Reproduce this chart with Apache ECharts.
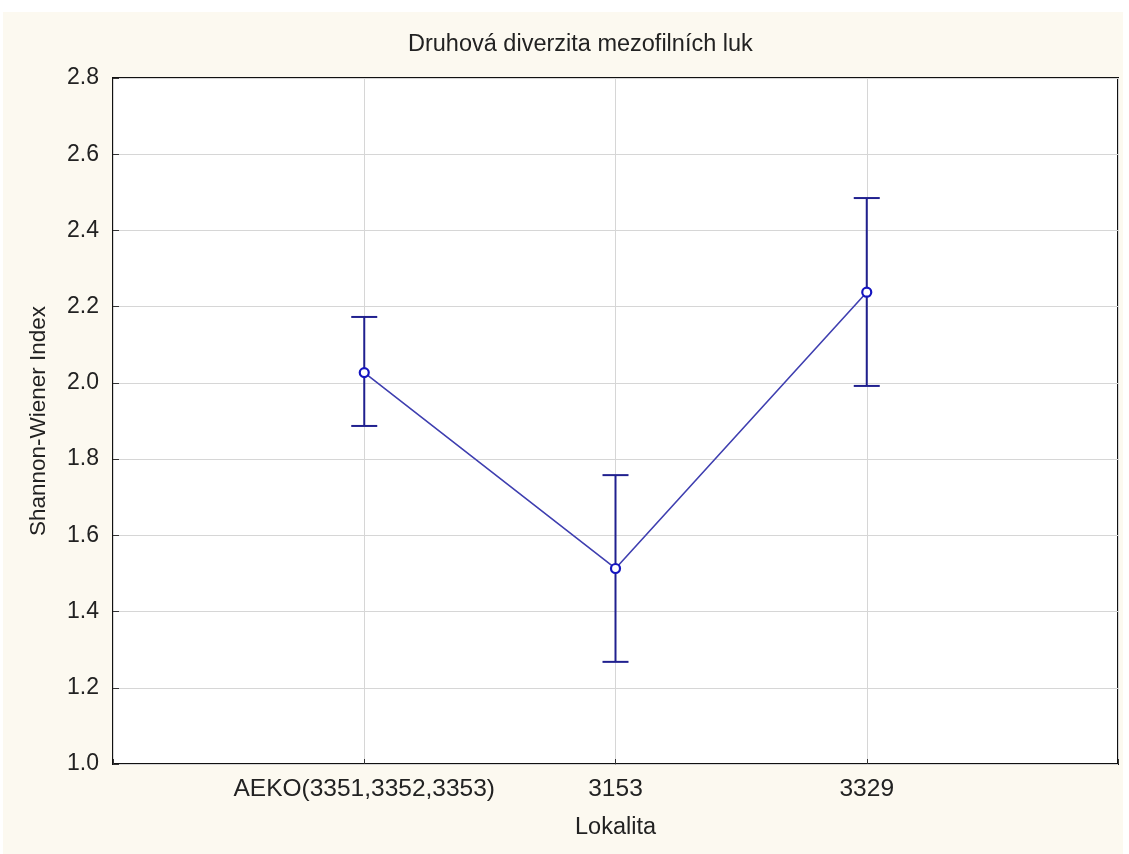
<!DOCTYPE html>
<html>
<head>
<meta charset="utf-8">
<script src="https://cdn.jsdelivr.net/npm/echarts@6/dist/echarts.min.js"></script>
<style>
html,body{margin:0;padding:0;background:#ffffff;}
#main{width:1129px;height:854px;}
</style>
</head>
<body>
<div id="main"></div>
<script>
var categories = ['AEKO(3351,3352,3353)', '3153', '3329'];
var means = [2.027, 1.513, 2.238];
var lowerErr = [1.887, 1.268, 1.992];
var upperErr = [2.173, 1.758, 2.485];
var titleText = 'Druhová diverzita mezofilních luk';
var xName = 'Lokalita';
var yName = 'Shannon-Wiener Index';

var FONT = '"Liberation Sans", Arial, sans-serif';
var chart = echarts.init(document.getElementById('main'));

var lineData = means.map(function (m, i) { return [i + 1, m]; });
var errData = means.map(function (m, i) { return [i + 1, lowerErr[i], upperErr[i]]; });

chart.setOption({
  backgroundColor: '#ffffff',
  animation: false,
  graphic: [{
    type: 'rect', z: -10, silent: true,
    shape: { x: 3, y: 12, width: 1120, height: 842 },
    style: { fill: '#fcf9f0' }
  }],
  title: {
    text: titleText, left: 403, top: 28,
    textStyle: { fontFamily: FONT, fontSize: 23.5, fontWeight: 'normal', color: '#222' }
  },
  grid: {
    left: 113, top: 78, right: 11, bottom: 90,
    show: true, backgroundColor: '#ffffff', borderColor: '#111', borderWidth: 2
  },
  xAxis: {
    type: 'value', min: 0, max: 4, interval: 1,
    name: xName, nameLocation: 'middle', nameGap: 52,
    nameTextStyle: { fontFamily: FONT, fontSize: 23.5, color: '#222' },
    axisLine: { show: false },
    axisTick: { show: true, inside: true, length: 5, lineStyle: { color: '#333' } },
    axisLabel: {
      fontFamily: FONT, fontSize: 24.5, color: '#222', margin: 13,
      formatter: function (v) { return (v >= 1 && v <= categories.length) ? categories[v - 1] : ''; }
    },
    splitLine: { show: true, lineStyle: { color: '#d6d6d6', width: 1 } }
  },
  yAxis: {
    type: 'value', min: 1.0, max: 2.8, interval: 0.2,
    name: yName, nameLocation: 'middle', nameGap: 63, nameRotate: 90,
    nameTextStyle: { fontFamily: FONT, fontSize: 22.5, color: '#222' },
    axisLine: { show: false },
    axisTick: { show: true, inside: true, length: 6, lineStyle: { color: '#333' } },
    axisLabel: {
      fontFamily: FONT, fontSize: 23, color: '#222', margin: 14,
      formatter: function (v) { return v.toFixed(1); }
    },
    splitLine: { show: true, lineStyle: { color: '#d6d6d6', width: 1 } }
  },
  series: [
    {
      type: 'custom',
      data: errData,
      z: 3,
      renderItem: function (params, api) {
        var x = api.value(0);
        var lo = api.coord([x, api.value(1)]);
        var hi = api.coord([x, api.value(2)]);
        var hw = 13;
        var st = { stroke: '#20208f', lineWidth: 2 };
        return {
          type: 'group',
          children: [
            { type: 'line', shape: { x1: lo[0], y1: lo[1], x2: hi[0], y2: hi[1] }, style: st },
            { type: 'line', shape: { x1: lo[0] - hw, y1: lo[1], x2: lo[0] + hw, y2: lo[1] }, style: st },
            { type: 'line', shape: { x1: hi[0] - hw, y1: hi[1], x2: hi[0] + hw, y2: hi[1] }, style: st }
          ]
        };
      }
    },
    {
      type: 'line',
      data: lineData,
      z: 4,
      symbol: 'circle',
      symbolSize: 9,
      showAllSymbol: true,
      lineStyle: { color: '#3f3fb0', width: 1.6 },
      itemStyle: { color: '#ffffff', borderColor: '#1515c0', borderWidth: 2.2 }
    }
  ]
});
</script>
</body>
</html>
